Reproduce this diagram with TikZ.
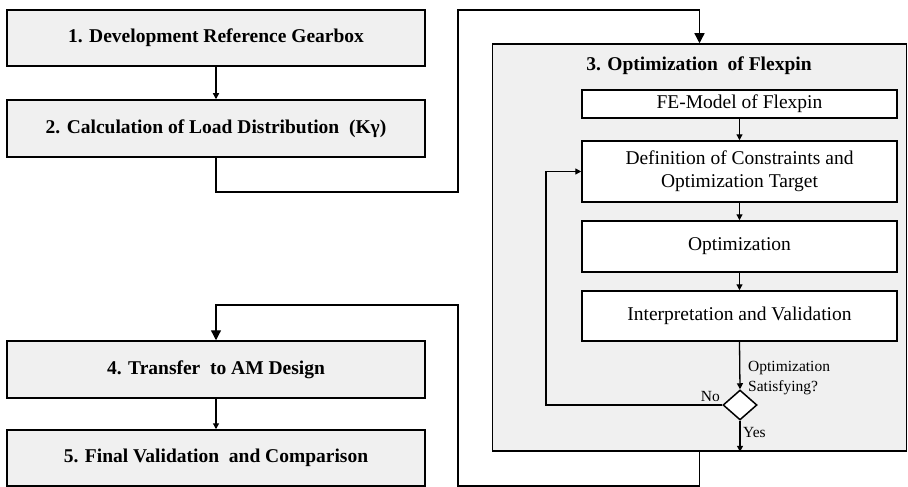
\documentclass[tikz,border=0pt]{standalone}
\usepackage{fontspec}
\setmainfont{Liberation Serif}
\usetikzlibrary{arrows.meta,shapes.geometric}
\definecolor{boxgray}{HTML}{F0F0F0}
\begin{document}
\begin{tikzpicture}[x=1pt,y=-1pt,
  mainbox/.style={draw, line width=1.5pt, fill=boxgray, minimum width=418pt, inner sep=0pt, font=\fontsize{19.5}{23}\selectfont\bfseries},
  innerbox/.style={draw, line width=1.5pt, fill=white, minimum width=315pt, inner sep=0pt, align=center, font=\fontsize{19.5}{23}\selectfont},
  conn/.style={line width=1.3pt},
  smallarr/.style={conn, -{Triangle[width=6pt,length=6pt]}},
  bigarr/.style={conn, -{Triangle[width=10pt,length=10pt]}},
  lbl/.style={font=\fontsize{15.5}{20}\selectfont, inner sep=0pt}
]
\useasboundingbox (0,0) rectangle (908,487);
\node[mainbox, minimum height=56pt] (b1) at (216,38) {1. Development Reference Gearbox};
\node[mainbox, minimum height=57pt] (b2) at (216,128.5) {2. Calculation of Load Distribution \ (Kγ)};
\node[draw, line width=1.5pt, fill=boxgray, minimum width=414pt, minimum height=407pt, inner sep=0pt] (b3) at (699.5,247.5) {};
\node[font=\fontsize{19.5}{23}\selectfont\bfseries, inner sep=0pt] (t3) at (699,66) {3. Optimization \ of Flexpin};
\node[innerbox, minimum height=28pt] (fe) at (739.5,104) {FE-Model of Flexpin};
\node[innerbox, minimum height=61pt] (def) at (739.5,171.5) {Definition of Constraints and\\Optimization Target};
\node[innerbox, minimum height=51pt] (opt) at (739.5,246.5) {Optimization};
\node[innerbox, minimum height=50pt] (int) at (739.5,316) {Interpretation and Validation};
\node[draw, line width=1.5pt, fill=white, diamond, minimum width=34pt, minimum height=30pt, inner sep=0pt] (dia) at (740,405) {};
\node[mainbox, minimum height=57pt] (b4) at (216,369.5) {4. Transfer \ to AM Design};
\node[mainbox, minimum height=56pt] (b5) at (216,458) {5. Final Validation \ and Comparison};
% labels
\node[lbl, anchor=west, align=left] (q) at (748,378) {Optimization\\Satisfying?};
\node[lbl, anchor=east] (no) at (720,396) {No};
\node[lbl, anchor=west] (yes) at (743,432) {Yes};
% connectors
\coordinate (c1) at (216,192);
\coordinate (c2) at (458,192);
\coordinate (c3) at (458,10);
\coordinate (c4) at (699.5,10);
\draw[smallarr] (b1.south) -- (b2.north);
\draw[bigarr] (b2.south) -- (c1) -- (c2) -- (c3) -- (c4) -- (b3.north);
\draw[smallarr] (fe.south) -- (def.north);
\draw[smallarr] (def.south) -- (opt.north);
\draw[smallarr] (opt.south) -- (int.north);
\draw[smallarr] (int.south) -- (dia.north);
\coordinate (f1) at (546,405);
\draw[smallarr] (dia.west) -- (f1) |- (def.west);
\draw[smallarr] (dia.south) -- (dia.south |- b3.south);
\coordinate (d1) at (699.5,486);
\coordinate (d2) at (458,486);
\coordinate (d3) at (458,305);
\coordinate (d4) at (216,305);
\draw[bigarr] (b3.south) -- (d1) -- (d2) -- (d3) -- (d4) -- (b4.north);
\draw[smallarr] (b4.south) -- (b5.north);
\end{tikzpicture}
\end{document}
